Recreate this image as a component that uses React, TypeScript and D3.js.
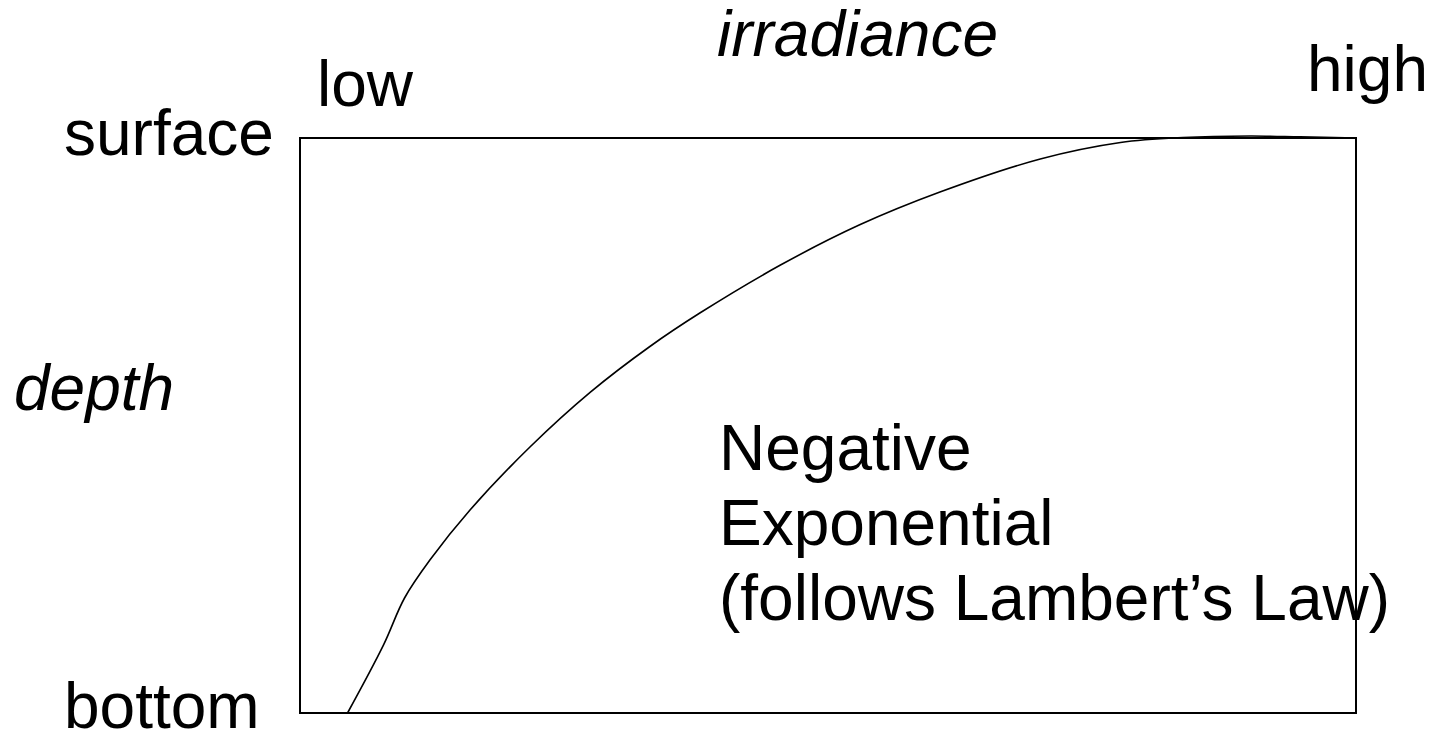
import React from "react";
import * as d3 from "d3";

const irradiance = [4.5, 7.9, 9.9, 12.3, 16.1, 21.8, 27.5, 33.1, 37.9, 45.5, 53.0, 60.6, 70.1, 77.7, 83.6, 90.0, 94.7, 100];
const depth = [100, 88.2, 80.0, 73.4, 64.7, 53.7, 44.2, 36.3, 30.4, 22.1, 15.1, 9.4, 3.65, 0.78, -0.09, -0.35, -0.2, 0];
const xLabels = ["low", "high"];
const yLabels = ["surface", "bottom"];
const xTitle = "irradiance";
const yTitle = "depth";
const noteLines = ["Negative", "Exponential", "(follows Lambert\u2019s Law)"];

export default function App() {
  const W = 1433, H = 733;
  const left = 300, right = 1356, top = 138, bottom = 713;
  const x = d3.scaleLinear().domain([0, 100]).range([left, right]);
  const y = d3.scaleLinear().domain([0, 100]).range([top, bottom]);
  const pts = irradiance.map((v, i) => [v, depth[i]] as [number, number]);
  const line = d3.line<[number, number]>().x(d => x(d[0])).y(d => y(d[1])).curve(d3.curveCatmullRom.alpha(0.5));
  const font = "Liberation Sans, Arial, sans-serif";
  const fs = 64;
  return (
    <svg width={W} height={H} style={{ position: "absolute", left: 0, top: 0, background: "#fff" }}>
      <rect x={left} y={top} width={right - left} height={bottom - top} fill="none" stroke="#000" strokeWidth={2} />
      <path d={line(pts) || ""} fill="none" stroke="#000" strokeWidth={1.6} />
      <g fontFamily={font} fontSize={fs} fill="#000">
        <text x={717} y={56} fontStyle="italic">{xTitle}</text>
        <text x={317} y={106}>{xLabels[0]}</text>
        <text x={1307} y={91}>{xLabels[1]}</text>
        <text x={64} y={155}>{yLabels[0]}</text>
        <text x={64} y={728}>{yLabels[1]}</text>
        <text x={14} y={410} fontStyle="italic">{yTitle}</text>
        {noteLines.map((t, i) => (
          <text key={i} x={719} y={470 + i * 75}>{t}</text>
        ))}
      </g>
    </svg>
  );
}
